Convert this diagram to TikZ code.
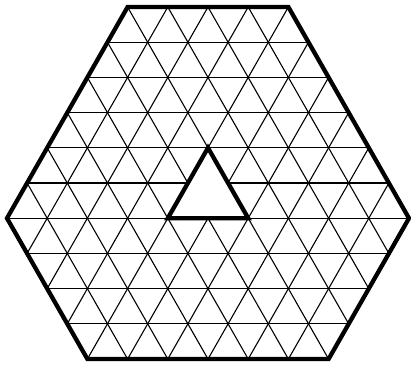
\documentclass[tikz,border=0pt]{standalone}
\begin{document}
\begin{tikzpicture}[x=40.2pt,y=35.2pt,
  gridline/.style={line width=1.1pt,black},
  boldedge/.style={line width=4.3pt,black,line join=miter}]
\useasboundingbox (-0.174,-0.17) rectangle (10.05,10.2);
\coordinate (L) at (0,4);
\coordinate (BL) at (2,0);
\coordinate (BR) at (8,0);
\coordinate (R) at (10,4);
\coordinate (TR) at (7,10);
\coordinate (TL) at (3,10);
\coordinate (H1) at (4,4);
\coordinate (H2) at (6,4);
\coordinate (H3) at (5,6);
\begin{scope}
  \clip (L) -- (BL) -- (BR) -- (R) -- (TR) -- (TL) -- cycle;
  \foreach \j in {0,...,10} \draw[gridline] (-1,\j) -- (11,\j);
  \foreach \k in {-6,...,10} \draw[gridline] (\k,0) -- ++(5,10);
  \foreach \k in {0,...,16} \draw[gridline] (\k,0) -- ++(-5,10);
\end{scope}
\fill[white] (H1) -- (H2) -- (H3) -- cycle;
\draw[boldedge] (H1) -- (H2) -- (H3) -- cycle;
\draw[boldedge] (L) -- (BL) -- (BR) -- (R) -- (TR) -- (TL) -- cycle;
\end{tikzpicture}
\end{document}
